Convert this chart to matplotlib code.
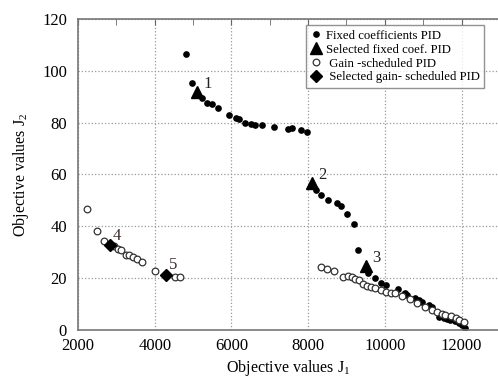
import numpy as np
import matplotlib
matplotlib.use("Agg")
import matplotlib.pyplot as plt
from matplotlib.ticker import MultipleLocator

plt.rcParams['font.family'] = ['Liberation Serif', 'DejaVu Serif']
plt.rcParams['mathtext.fontset'] = 'custom'
plt.rcParams['mathtext.rm'] = 'Liberation Serif'
plt.rcParams['mathtext.it'] = 'Liberation Serif'

# fixed coefficients PID (filled dots)
fix_j1 = [4805, 4979, 5229, 5368, 5489, 5662, 5930, 6122, 6208, 6364, 6511, 6623,
          6797, 7117, 7463, 7592, 7810, 7966,
          8216, 8345, 8519, 8745, 8865, 9005, 9195, 9307, 9567, 9740, 9888, 10018,
          10338, 10519, 10494, 10579, 10797, 10883, 10969, 11143, 11229, 11403,
          11532, 11618, 11706, 11818, 11922, 12008, 12100]
fix_j2 = [106.7, 95.5, 89.5, 87.7, 87.4, 85.6, 82.8, 81.8, 81.3, 79.9, 79.5, 79.2,
          79.1, 78.5, 77.7, 77.8, 77.2, 76.5,
          54.2, 52.2, 50.0, 49.0, 47.7, 44.9, 40.8, 31.0, 21.8, 19.9, 18.2, 17.3,
          15.8, 14.1, 13.8, 13.5, 12.2, 11.5, 10.9, 9.6, 9.0, 5.1,
          4.5, 4.2, 3.8, 3.6, 2.6, 1.9, 0.9]

# selected fixed coef. PID (triangles)
sel_fix_j1 = [5109, 8096, 9498]
sel_fix_j2 = [92.0, 56.7, 24.6]
sel_fix_lbl = ["1", "2", "3"]

# gain-scheduled PID (open circles)
gs_j1 = [2245, 2486, 2684, 2943, 3047, 3134, 3247, 3333, 3437, 3550, 3660, 4000,
         4519, 4660,
         8329, 8480, 8675, 8917, 9030, 9135, 9221, 9325, 9429, 9541, 9628, 9740,
         9888, 10018, 10148, 10260, 10450, 10667, 10850, 11050, 11229, 11358,
         11480, 11574, 11730, 11850, 11922, 12052]
gs_j2 = [46.5, 38.1, 34.4, 32.3, 31.4, 30.8, 28.8, 29.1, 28.2, 27.3, 26.1, 22.8,
         20.6, 20.6,
         24.4, 23.7, 22.8, 20.5, 20.9, 20.4, 19.5, 19.2, 17.7, 16.9, 16.7, 16.3,
         15.4, 14.7, 14.4, 14.4, 13.0, 11.8, 10.5, 9.0, 7.7, 7.0,
         6.3, 5.8, 5.4, 4.5, 3.8, 3.2]

# selected gain-scheduled PID (diamonds)
sel_gs_j1 = [2831, 4286]
sel_gs_j2 = [32.7, 21.3]
sel_gs_lbl = ["4", "5"]

fig = plt.figure(figsize=(4.98, 3.81), dpi=100)
ax = fig.add_axes([0.1566, 0.134, 0.8434, 0.816])

ax.plot(fix_j1, fix_j2, "o", color="black", ms=3.8, mec="black", lw=0,
        label="Fixed coefficients PID")
ax.plot(sel_fix_j1, sel_fix_j2, "^", color="black", ms=9, lw=0,
        label="Selected fixed coef. PID")
ax.plot(gs_j1, gs_j2, "o", mfc="white", mec="#333333", ms=4.8, mew=0.9, lw=0,
        label=" Gain -scheduled PID")
ax.plot(sel_gs_j1, sel_gs_j2, "D", color="black", ms=6.5, lw=0,
        label=" Selected gain- scheduled PID")

for x, y, t in zip(sel_fix_j1, sel_fix_j2, sel_fix_lbl):
    ax.text(x + 170, y + 1.5, t, fontsize=12, color="#222222")
for x, y, t in zip(sel_gs_j1, sel_gs_j2, sel_gs_lbl):
    ax.text(x + 80, y + 2.2, t, fontsize=12, color="#3a2a2a")

ax.set_xlim(2000, 12950)
ax.set_ylim(0, 120)
ax.xaxis.set_major_locator(MultipleLocator(2000))
ax.xaxis.set_minor_locator(MultipleLocator(1000))
ax.yaxis.set_major_locator(MultipleLocator(20))

ax.grid(True, which="major", linestyle=":", color="#999999", linewidth=0.9)
ax.set_axisbelow(True)

ax.tick_params(axis="x", which="both", top=True, bottom=False, direction="in",
               length=4, color="#666666", labelsize=12, pad=6)
ax.tick_params(axis="y", length=0, labelsize=12, pad=8)
for side in ["left", "bottom", "top"]:
    ax.spines[side].set_color("#777777")
    ax.spines[side].set_linewidth(1.2)
ax.spines["right"].set_visible(False)

ax.set_xlabel("Objective values J$_1$", fontsize=11.5, labelpad=3)
ax.set_ylabel("Objective values J$_2$", fontsize=11.5, labelpad=8)

leg = ax.legend(loc="upper left", bbox_to_anchor=(0.5435, 0.98), fontsize=9.2,
                frameon=True, fancybox=False, edgecolor="#777777",
                handlelength=0.8, handletextpad=0.4, borderpad=0.35,
                labelspacing=0.15, borderaxespad=0)
leg.get_frame().set_linewidth(1.0)

fig.savefig("out.png", dpi=100)
